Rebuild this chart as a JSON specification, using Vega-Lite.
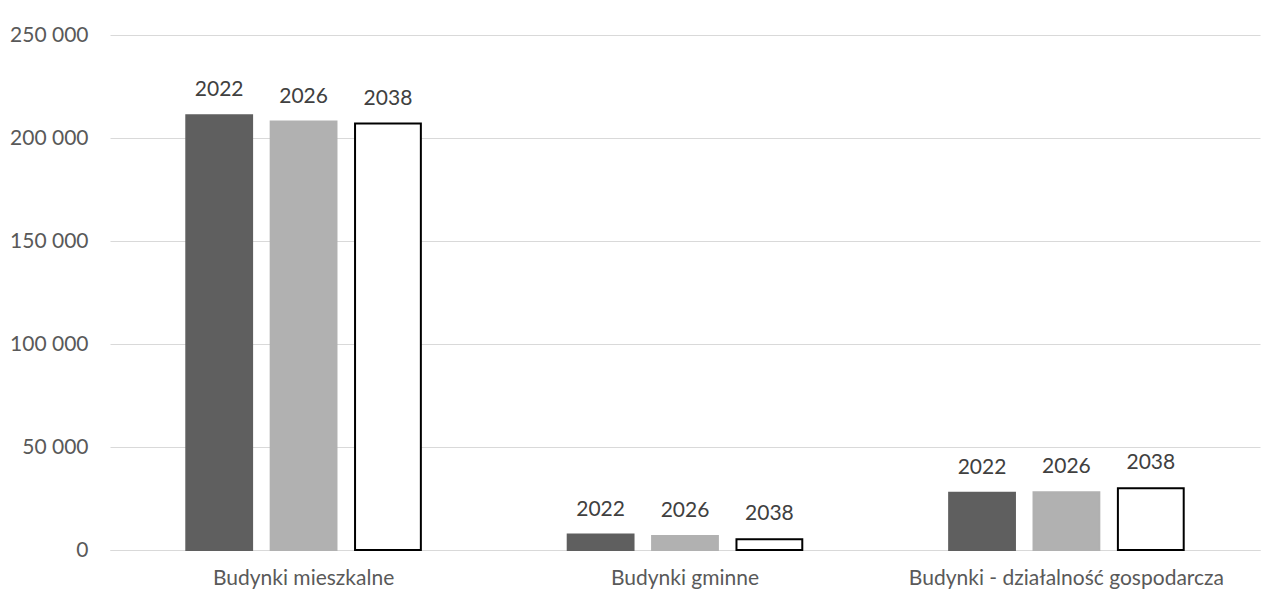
{
  "$schema": "https://vega.github.io/schema/vega-lite/v6.json",
  "width": 1150,
  "height": 515,
  "autosize": "none",
  "padding": {"left": 110, "top": 35, "right": 26, "bottom": 49},
  "background": "white",
  "config": {"view": {"stroke": null}, "font": "Lato"},
  "data": {"values": [
    {"kategoria": "Budynki mieszkalne", "rok": "2022", "wartosc": 211000},
    {"kategoria": "Budynki mieszkalne", "rok": "2026", "wartosc": 208000},
    {"kategoria": "Budynki mieszkalne", "rok": "2038", "wartosc": 207000},
    {"kategoria": "Budynki gminne", "rok": "2022", "wartosc": 7500},
    {"kategoria": "Budynki gminne", "rok": "2026", "wartosc": 6800},
    {"kategoria": "Budynki gminne", "rok": "2038", "wartosc": 5200},
    {"kategoria": "Budynki - działalność gospodarcza", "rok": "2022", "wartosc": 27800},
    {"kategoria": "Budynki - działalność gospodarcza", "rok": "2026", "wartosc": 28000},
    {"kategoria": "Budynki - działalność gospodarcza", "rok": "2038", "wartosc": 30000}
  ]},
  "encoding": {
    "x": {"field": "kategoria", "type": "nominal", "sort": null,
      "scale": {"paddingInner": 0.385, "paddingOuter": 0.2},
      "axis": {"title": null, "labelAngle": 0, "ticks": false, "domainColor": "#d9d9d9", "domainWidth": 1, "labelPadding": 17, "labelFontSize": 21, "labelColor": "#595959", "labelFont": "Lato", "labelLimit": 600}},
    "xOffset": {"field": "rok", "type": "nominal", "scale": {"paddingInner": 0.22, "paddingOuter": 0}},
    "y": {"field": "wartosc", "type": "quantitative",
      "scale": {"domain": [0, 250000]},
      "axis": {"title": null, "values": [0, 50000, 100000, 150000, 200000, 250000], "labelOverlap": false, "domain": false, "ticks": false, "gridColor": "#d9d9d9", "gridWidth": 1, "labelPadding": 22, "labelFontSize": 21, "labelColor": "#595959", "labelFont": "Lato",
        "labelExpr": "replace(format(datum.value, ','), ',', ' ')"}}
  },
  "layer": [
    {
      "mark": {"type": "bar", "strokeWidth": 2},
      "encoding": {
        "fill": {"field": "rok", "type": "nominal", "legend": null,
          "scale": {"domain": ["2022", "2026", "2038"], "range": ["#5f5f5f", "#b1b1b1", "#ffffff"]}},
        "stroke": {"field": "rok", "type": "nominal", "legend": null,
          "scale": {"domain": ["2022", "2026", "2038"], "range": ["#5f5f5f", "#b1b1b1", "#000000"]}}
      }
    },
    {
      "mark": {"type": "text", "baseline": "bottom", "dy": -15, "fontSize": 21, "color": "#404040", "font": "Lato"},
      "encoding": {"text": {"field": "rok", "type": "nominal"}}
    }
  ]
}
